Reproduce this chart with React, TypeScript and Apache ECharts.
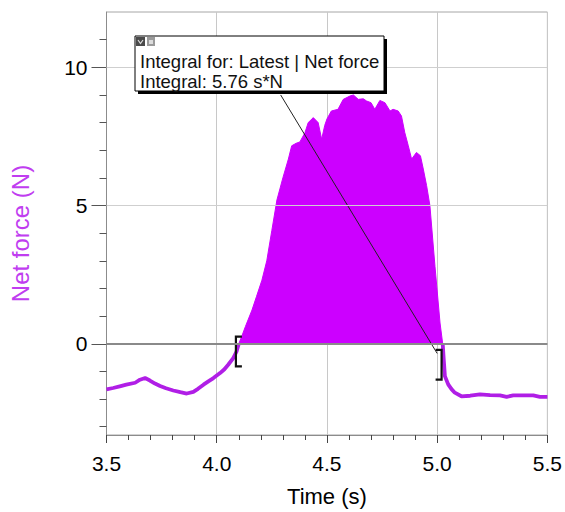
import React, { useEffect, useRef } from 'react';
import * as echarts from 'echarts';

// Curve: time (s) and net force (N)
const timeValues = [
  3.5, 3.53, 3.56, 3.59, 3.63, 3.652, 3.675, 3.697, 3.72, 3.743, 3.77, 3.803, 3.835, 3.864, 3.894, 3.915, 3.94, 3.962, 3.985,
  4.015, 4.035, 4.052, 4.075, 4.09, 4.1,
  4.115, 4.13, 4.16, 4.18, 4.205, 4.227, 4.25, 4.273, 4.3, 4.325, 4.34, 4.36, 4.377, 4.4, 4.415, 4.438, 4.46, 4.476,
  4.49, 4.5, 4.52, 4.55, 4.574, 4.604, 4.62, 4.642, 4.665, 4.68, 4.7, 4.717, 4.74, 4.763, 4.786, 4.8, 4.823, 4.838,
  4.853, 4.869, 4.884, 4.906, 4.924, 4.937, 4.952, 4.967, 4.99, 5.013, 5.025,
  5.03, 5.035, 5.05, 5.065, 5.08, 5.11, 5.15, 5.194, 5.24, 5.285, 5.315, 5.345, 5.39, 5.436, 5.466, 5.5
];
const forceValues = [
  -1.65, -1.6, -1.54, -1.48, -1.41, -1.3, -1.24, -1.33, -1.44, -1.53, -1.61, -1.69, -1.75, -1.8, -1.74, -1.63, -1.48, -1.36, -1.24,
  -1.06, -0.92, -0.76, -0.52, -0.28, 0,
  0.3, 0.62, 1.22, 1.7, 2.3, 3.0, 4.1, 5.2, 6.0, 6.68, 7.16, 7.25, 7.3, 7.63, 8.0, 8.18, 8.0, 7.4,
  7.9, 8.13, 8.42, 8.48, 8.84, 8.96, 9.0, 8.84, 8.86, 8.78, 8.72, 8.48, 8.8, 8.72, 8.42, 8.48, 8.42, 8.24,
  7.64, 7.16, 6.68, 6.92, 6.8, 6.32, 5.72, 5.0, 2.8, 0.75, 0,
  -0.6, -1.17, -1.47, -1.64, -1.77, -1.9, -1.88, -1.83, -1.86, -1.87, -1.92, -1.87, -1.87, -1.87, -1.92, -1.92
];

const integralStart = 4.1;
const integralEnd = 5.025;

const xMin = 3.5;
const xMax = 5.5;
const xInterval = 0.5;
const yMin = -3.3;
const yMax = 12;
const yLabelValues = [0, 5, 10];
const yMinorTickValues = [-3, -2, -1, 1, 2, 3, 4, 6, 7, 8, 9, 11];
const yGridValues = [5, 10];

// brackets: [time, top force, bottom force, serif direction]
const bracketData = [
  [4.087, 0.26, -0.82, 1],
  [5.02, -0.22, -1.3, -1],
];
// leader line from annotation box to end bracket
const leaderTimes = [4.29, 5.0];
const leaderForces = [9.0, -0.35];

const annotationLines = ['Integral for: Latest | Net force', 'Integral: 5.76 s*N'];

const FONT = '"Liberation Sans", Arial, sans-serif';
const LINE_COLOR = '#B01EE6';
const FILL_COLOR = '#CC00FF';

export default function App() {
  const ref = useRef<HTMLDivElement>(null);

  useEffect(() => {
    document.body.style.margin = '0';
    if (!ref.current) return;
    const chart = echarts.init(ref.current, undefined, { renderer: 'svg' });

    const points = timeValues.map((t, i) => [t, forceValues[i]]);
    const pre = points.filter((p) => p[0] <= integralStart);
    const post = points.filter((p) => p[0] >= integralEnd);
    const pulse = points.filter((p) => p[0] >= integralStart && p[0] <= integralEnd);
    const leader = leaderTimes.map((t, i) => [t, leaderForces[i]]);

    const Z = 100;
    const option: any = {
      animation: false,
      textStyle: { fontFamily: FONT },
      grid: {
        left: 106.5,
        right: 17.5,
        top: 12,
        bottom: 77,
        show: true,
        borderColor: '#a6a6a6',
        borderWidth: 1,
        backgroundColor: 'transparent',
      },
      xAxis: {
        type: 'value',
        min: xMin,
        max: xMax,
        interval: xInterval,
        name: 'Time (s)',
        nameLocation: 'middle',
        nameGap: 50,
        nameTextStyle: { fontSize: 22, color: '#000', fontFamily: FONT },
        axisLine: { show: true, onZero: false, lineStyle: { color: '#8c8c8c', width: 1 } },
        axisTick: { show: true, length: 8, lineStyle: { color: '#444' } },
        minorTick: { show: true, splitNumber: 5, length: 5, lineStyle: { color: '#444' } },
        axisLabel: {
          fontSize: 21,
          color: '#000',
          margin: 18,
          fontFamily: FONT,
          formatter: (v: number) => v.toFixed(1),
        },
        splitLine: { show: true, lineStyle: { color: '#c8c8c8', width: 1 } },
      },
      yAxis: [
        {
          type: 'value',
          min: yMin,
          max: yMax,
          position: 'left',
          name: 'Net force (N)',
          nameLocation: 'middle',
          nameRotate: 90,
          nameGap: 74,
          nameTextStyle: { fontSize: 24, color: '#C03DF0', fontFamily: FONT, padding: [0, 20, 0, 0] },
          axisLine: { show: true, onZero: false, lineStyle: { color: '#8c8c8c', width: 1 } },
          axisTick: { show: true, customValues: yMinorTickValues, length: 7, lineStyle: { color: '#555' } },
          axisLabel: { customValues: yLabelValues, fontSize: 21, color: '#000', margin: 19, fontFamily: FONT },
          splitLine: { show: false },
        },
        {
          type: 'value',
          min: yMin,
          max: yMax,
          position: 'left',
          offset: 0,
          axisLine: { show: false },
          axisTick: { show: true, customValues: yLabelValues, length: 15, lineStyle: { color: '#555' } },
          axisLabel: { show: false },
          splitLine: { show: false },
        },
      ],
      series: [
        {
          type: 'line',
          name: 'grid',
          data: [],
          z: 1,
          silent: true,
          markLine: {
            silent: true,
            symbol: ['none', 'none'],
            label: { show: false },
            animation: false,
            data: [
              ...yGridValues.map((v) => ({ yAxis: v, lineStyle: { color: '#cfcfcf', width: 1, type: 'solid' } })),
              { yAxis: 0, lineStyle: { color: '#8a8a8a', width: 2, type: 'solid' } },
            ],
          },
        },
        {
          type: 'line',
          name: 'integral',
          data: pulse,
          z: 2,
          symbol: 'none',
          silent: true,
          lineStyle: { color: FILL_COLOR, width: 1 },
          areaStyle: { color: FILL_COLOR, opacity: 1 },
        },
        {
          type: 'line',
          name: 'pre',
          data: pre,
          z: 3,
          symbol: 'none',
          silent: true,
          lineStyle: { color: LINE_COLOR, width: 3.8 },
        },
        {
          type: 'line',
          name: 'post',
          data: post,
          z: 3,
          symbol: 'none',
          silent: true,
          lineStyle: { color: LINE_COLOR, width: 3.8 },
        },
        {
          type: 'custom',
          name: 'brackets',
          z: 4,
          silent: true,
          data: bracketData,
          encode: { x: 0, y: [1, 2] },
          renderItem: (_params: any, api: any) => {
            const top = api.coord([api.value(0), api.value(1)]);
            const bot = api.coord([api.value(0), api.value(2)]);
            const s = 6 * api.value(3);
            return {
              type: 'polyline',
              shape: {
                points: [
                  [top[0] + s, top[1]],
                  [top[0], top[1]],
                  [bot[0], bot[1]],
                  [bot[0] + s, bot[1]],
                ],
              },
              style: { stroke: '#111', lineWidth: 2.2, fill: null },
            };
          },
        },
        {
          type: 'line',
          name: 'leader',
          z: 4,
          silent: true,
          symbol: 'none',
          data: leader,
          lineStyle: { color: '#222', width: 1 },
        },
      ],
      graphic: [
        { type: 'rect', z: Z, shape: { x: 138, y: 39, width: 249, height: 55 }, style: { fill: '#000' } },
        {
          type: 'rect',
          z: Z + 1,
          shape: { x: 135, y: 36, width: 249, height: 55 },
          style: { fill: '#fff', stroke: '#000', lineWidth: 1 },
        },
        { type: 'rect', z: Z + 2, shape: { x: 136, y: 37, width: 9, height: 9 }, style: { fill: '#4a4a4a' } },
        {
          type: 'polyline',
          z: Z + 3,
          shape: { points: [[138, 40], [140.5, 43.5], [143, 40]] },
          style: { stroke: '#ddd', lineWidth: 1.2, fill: null },
        },
        { type: 'rect', z: Z + 2, shape: { x: 147, y: 37, width: 8, height: 9 }, style: { fill: '#9a9a9a' } },
        { type: 'rect', z: Z + 3, shape: { x: 149, y: 40, width: 4, height: 4 }, style: { fill: '#dcdcdc' } },
        {
          type: 'text',
          z: Z + 3,
          x: 140,
          y: 61,
          style: {
            text: annotationLines[0],
            font: '18.5px "Liberation Sans", Arial, sans-serif',
            fill: '#111',
            verticalAlign: 'middle',
            align: 'left',
          },
        },
        {
          type: 'text',
          z: Z + 3,
          x: 140,
          y: 81.5,
          style: {
            text: annotationLines[1],
            font: '18.5px "Liberation Sans", Arial, sans-serif',
            fill: '#111',
            verticalAlign: 'middle',
            align: 'left',
          },
        },
      ],
    };

    chart.setOption(option);
    return () => chart.dispose();
  }, []);

  return <div ref={ref} style={{ width: 565, height: 512 }} />;
}
